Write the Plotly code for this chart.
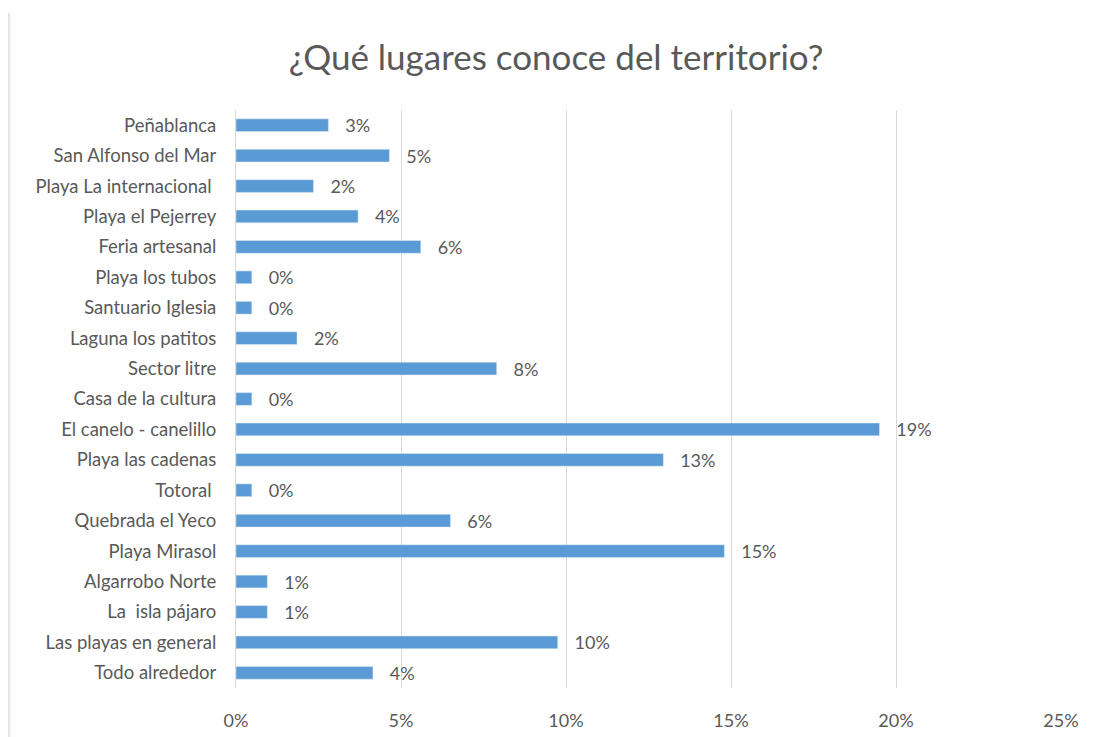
import plotly.graph_objects as go

places = [
    "Peñablanca", "San Alfonso del Mar", "Playa La internacional ", "Playa el Pejerrey",
    "Feria artesanal", "Playa los tubos", "Santuario Iglesia", "Laguna los patitos",
    "Sector litre", "Casa de la cultura", "El canelo - canelillo", "Playa las cadenas",
    "Totoral ", "Quebrada el Yeco", "Playa Mirasol", "Algarrobo Norte", "La  isla pájaro",
    "Las playas en general", "Todo alrededor",
]
shares = [2.8, 4.65, 2.35, 3.7, 5.6, 0.48, 0.48, 1.85, 7.9, 0.48, 19.5, 12.95,
          0.48, 6.5, 14.8, 0.95, 0.95, 9.75, 4.15]
share_labels = ["3%", "5%", "2%", "4%", "6%", "0%", "0%", "2%", "8%", "0%", "19%", "13%",
                "0%", "6%", "15%", "1%", "1%", "10%", "4%"]
x_ticks = [0, 5, 10, 15, 20, 25]
x_tick_labels = ["0%", "5%", "10%", "15%", "20%", "25%"]

grey = "#595959"
font_family = "Lato, 'Open Sans', sans-serif"

fig = go.Figure()
fig.add_trace(go.Bar(
    y=places, x=shares, orientation="h",
    marker_color="#5b9bd5", width=0.42,
    text=["   " + t for t in share_labels], textposition="outside",
    constraintext="none",
    textfont=dict(size=18, color=grey, family=font_family),
    cliponaxis=False, hoverinfo="skip",
))
fig.update_layout(
    title=dict(text="¿Qué lugares conoce del territorio?", x=0.5, xanchor="center",
               y=0.932, yanchor="middle",
               font=dict(size=35, color=grey, family=font_family)),
    width=1096, height=737,
    plot_bgcolor="white", paper_bgcolor="white",
    margin=dict(l=228, r=43, t=102, b=57),
    showlegend=False,
    font=dict(family=font_family, color=grey),
    # light frame edge on the left, as in the source image
    shapes=[dict(type="line", xref="paper", yref="paper", x0=-0.2755, x1=-0.2755,
                 y0=-0.2, y1=1.168, line=dict(color="#e6e6e6", width=3))],
)
fig.update_xaxes(
    range=[0, 25], tickvals=x_ticks, ticktext=x_tick_labels,
    showgrid=True, gridcolor="#d9d9d9", gridwidth=1, zeroline=False,
    showline=False, tickfont=dict(size=18, color=grey),
    ticks="outside", ticklen=16, tickcolor="rgba(0,0,0,0)",
)
fig.update_yaxes(
    autorange="reversed", showgrid=False, showline=True, linecolor="#d9d9d9",
    tickfont=dict(size=18.5, color=grey),
    ticks="outside", ticklen=15, tickcolor="rgba(0,0,0,0)",
)
fig.write_html("out.html")
